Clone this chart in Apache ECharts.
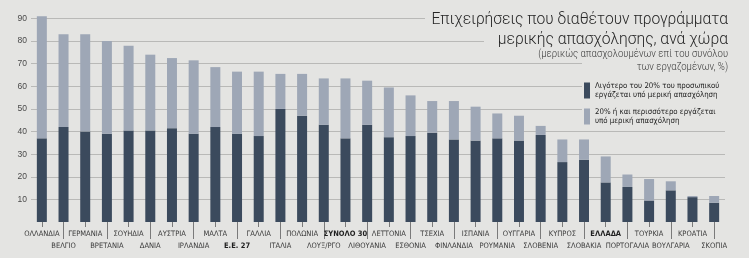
<!DOCTYPE html>
<html><head><meta charset="utf-8">
<script src="https://cdn.jsdelivr.net/npm/echarts@6/dist/echarts.min.js"></script>
<style>html,body{margin:0;padding:0;background:#e4e4e2}#c{width:749px;height:258px}</style>
</head><body><div id="c"></div>
<script>
const categories = ['ΟΛΛΑΝΔΙΑ','ΒΕΛΓΙΟ','ΓΕΡΜΑΝΙΑ','ΒΡΕΤΑΝΙΑ','ΣΟΥΗΔΙΑ','ΔΑΝΙΑ','ΑΥΣΤΡΙΑ','ΙΡΛΑΝΔΙΑ','ΜΑΛΤΑ','Ε.Ε. 27',
  'ΓΑΛΛΙΑ','ΙΤΑΛΙΑ','ΠΟΛΩΝΙΑ','ΛΟΥΞ/ΡΓΟ','ΣΥΝΟΛΟ 30','ΛΙΘΟΥΑΝΙΑ','ΛΕΤΤΟΝΙΑ','ΕΣΘΟΝΙΑ','ΤΣΕΧΙΑ','ΦΙΝΛΑΝΔΙΑ',
  'ΙΣΠΑΝΙΑ','ΡΟΥΜΑΝΙΑ','ΟΥΓΓΑΡΙΑ','ΣΛΟΒΕΝΙΑ','ΚΥΠΡΟΣ','ΣΛΟΒΑΚΙΑ','ΕΛΛΑΔΑ','ΠΟΡΤΟΓΑΛΙΑ','ΤΟΥΡΚΙΑ','ΒΟΥΛΓΑΡΙΑ',
  'ΚΡΟΑΤΙΑ','ΣΚΟΠΙΑ'];
const boldCategories = ['Ε.Ε. 27','ΣΥΝΟΛΟ 30','ΕΛΛΑΔΑ'];
const under20 = [37,42,40,39,40.5,40.5,41.5,39,42,39, 38,50,47,43,37,43,37.5,38,39.5,36.5, 36,37,36,38.5,26.5,27.5,17.5,15.5,9.5,14, 11,8.5];
const over20  = [54,41,43,41,37.5,33.5,31,32.5,26.5,27.5, 28.5,15.5,18.5,20.5,26.5,19.5,22,18,14,17, 15,11,11,4,10,9,11.5,5.5,9.5,4, 0.5,3];
const seriesNames = ['Λιγότερο του 20% του προσωπικού\nεργάζεται υπό μερική απασχόληση',
                     '20% ή και περισσότερο εργάζεται\nυπό μερική απασχόληση'];
const titleLines = ['Επιχειρήσεις που διαθέτουν προγράμματα','μερικής απασχόλησης, ανά χώρα'];
const subtitleLines = ['(μερικώς απασχολουμένων επί του συνόλου','των εργαζομένων, %)'];
const yMin = 0, yMax = 90, yStep = 10;

const BG = '#e4e4e2';
const NARROW = '"Liberation Sans Narrow","DejaVu Sans Condensed","Liberation Sans",sans-serif';
const TITLE_FONT = 'Roboto, "Open Sans", sans-serif';
function textEl(x, y, text, font, fill, sx) {
  return {type: 'text', z: 10, silent: true, x: x, y: y, scaleX: sx, originX: 0, originY: 0,
    style: {x: 0, y: 0, text: text, textAlign: 'right', textVerticalAlign: 'middle', font: font, fill: fill}};
}
const chart = echarts.init(document.getElementById('c'), null, {renderer:'canvas'});
chart.setOption({
  backgroundColor: BG,
  animation: false,
  grid: {left: 31, right: 24, top: 18.5, bottom: 36, containLabel: false},
  xAxis: [{
    type: 'category', data: categories, position: 'bottom', offset: 0,
    axisLine: {show: false},
    axisTick: {show: true, alignWithLabel: true, length: 5, interval: (i) => i % 2 === 0, lineStyle: {color: '#7a7a7a', width: 1}},
    axisLabel: {
      interval: 0, margin: 6, color: '#3a3a3a', fontFamily: NARROW, fontSize: 7.5, lineHeight: 12,
      formatter: (v, i) => {
        const key = boldCategories.includes(v) ? 'b' : 'n';
        const s = '{' + key + '|' + v + '}';
        return i % 2 ? '{n| }\n' + s : s;
      },
      rich: {
        n: {fontFamily: NARROW, fontSize: 7.5, lineHeight: 12, color: '#3a3a3a'},
        b: {fontFamily: NARROW, fontSize: 7.5, lineHeight: 12, color: '#1e1e1e', fontWeight: 'bold'}
      }
    }
  }, {
    type: 'category', data: categories, position: 'bottom', offset: 0,
    axisLine: {show: false}, axisLabel: {show: false},
    axisTick: {show: true, alignWithLabel: true, length: 17, interval: (i) => i % 2 === 1, lineStyle: {color: '#7a7a7a', width: 1}}
  }],
  yAxis: {
    type: 'value', min: yMin, max: yMax, interval: yStep,
    axisLine: {show: false}, axisTick: {show: false},
    axisLabel: {margin: 4, color: '#4a4a4a', fontSize: 8.5, fontFamily: '"Liberation Sans",sans-serif',
      formatter: (v) => v === 0 ? '' : String(v)},
    splitLine: {show: true, showMinLine: false, lineStyle: {color: '#b9b9b7', width: 1}}
  },
  legend: {
    orient: 'vertical', left: 584, top: 81, itemWidth: 6, itemHeight: 16, itemGap: 7,
    icon: 'rect', selectedMode: false, padding: 0,
    textStyle: {fontSize: 7.8, lineHeight: 9.5, color: '#222', fontFamily: NARROW},
    data: seriesNames
  },
  graphic: [
    {type: 'rect', z: 3, silent: true, shape: {x: 425, y: 6, width: 324, height: 24}, style: {fill: BG}},
    {type: 'rect', z: 3, silent: true, shape: {x: 484, y: 30, width: 265, height: 24}, style: {fill: BG}},
    {type: 'rect', z: 3, silent: true, shape: {x: 582, y: 54, width: 167, height: 72}, style: {fill: BG}},
    textEl(728, 20, titleLines[0], '300 17px ' + TITLE_FONT, '#262626', 0.92),
    textEl(728, 40, titleLines[1], '300 17px ' + TITLE_FONT, '#262626', 0.92),
    textEl(728, 54, subtitleLines[0], '300 10.5px ' + TITLE_FONT, '#3a3a3a', 0.91),
    textEl(728, 67, subtitleLines[1], '300 10.5px ' + TITLE_FONT, '#3a3a3a', 0.91)
  ],
  series: [
    {name: seriesNames[0], type: 'bar', stack: 'total', data: under20, barWidth: 10, clip: false,
      itemStyle: {color: '#3b4a5d'}},
    {name: seriesNames[1], type: 'bar', stack: 'total', data: over20, barWidth: 10, clip: false,
      itemStyle: {color: '#9ea7b6'}}
  ]
});
</script></body></html>
